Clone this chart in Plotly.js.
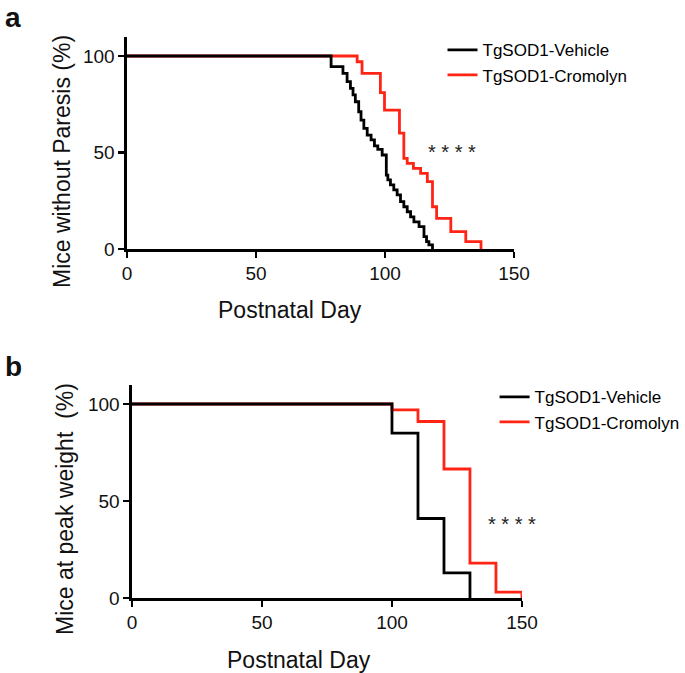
<!DOCTYPE html>
<html lang="en">
<head>
    <meta charset="UTF-8">
    <title>Paresis and peak weight survival curves</title>
    <script src="https://cdn.plot.ly/plotly-3.0.1.min.js"></script>
    <style>
        body { margin: 0; padding: 0; background: #fff; }
        #plot { width: 685px; height: 673px; }
    </style>
</head>
<body>
    <div id="plot"></div>
    <script>
        // Panel a: mice without paresis (%) by postnatal day (step curves)
        const vehA_days = [0, 79.1, 83.7, 85.3, 86.6, 87.6, 88.5, 89.8, 90.7, 91.8, 93.1, 94.6, 95.9, 97.2, 98.9, 100.5,
                           101.1, 102.1, 103.4, 104.7, 106, 107.3, 108.6, 109.9, 111.2, 113.2, 115.1, 116.1, 117, 118.4];
        const vehA_pct  = [100, 94.5, 91, 86.7, 83.2, 79.8, 76.3, 71.1, 66.8, 62.5, 59, 56.5, 53.4, 51.6, 48.7, 38.3,
                           35.8, 33.2, 30.6, 28, 24.5, 21.9, 19.3, 16.7, 14.1, 11.6, 6.4, 3.8, 2.1, 0];
        const croA_days = [0, 89.2, 91.1, 98.2, 99.8, 105.6, 107.3, 108.6, 111, 113.8, 116.4, 118.4, 120, 125.5, 131.3, 137.2];
        const croA_pct  = [100, 97, 91, 81, 72, 60, 47, 44.4, 41.8, 39.2, 34.9, 21.9, 15.9, 9, 3.8, 0];

        // Panel b: mice at peak weight (%)
        const vehB_days = [0, 100, 110, 120, 130];
        const vehB_pct  = [100, 85, 41, 13, 0];
        const croB_days = [0, 100, 110, 120, 130, 140, 150];
        const croB_pct  = [100, 97, 91, 66.5, 18, 3, 0];

        const groups = ['TgSOD1-Vehicle', 'TgSOD1-Cromolyn'];
        const black = '#000000';
        const red = '#ff2414';
        const font = 'Liberation Sans, Arial, sans-serif';

        function stepTrace(x, y, name, color, xa, ya, leg, rank) {
            return {
                x: x, y: y, name: name,
                type: 'scatter', mode: 'lines',
                line: { shape: 'hv', color: color, width: 2.8 },
                xaxis: xa, yaxis: ya,
                legend: leg, legendrank: rank,
                hoverinfo: 'x+y'
            };
        }

        // red first so black sits on top where they overlap
        const data = [
            stepTrace(croA_days, croA_pct, groups[1], red, 'x', 'y', 'legend', 2),
            stepTrace(vehA_days, vehA_pct, groups[0], black, 'x', 'y', 'legend', 1),
            stepTrace(croB_days, croB_pct, groups[1], red, 'x2', 'y2', 'legend2', 2),
            stepTrace(vehB_days, vehB_pct, groups[0], black, 'x2', 'y2', 'legend2', 1)
        ];

        const axisBase = {
            showline: true, linecolor: black, linewidth: 2.5,
            ticks: 'outside', ticklen: 6, tickwidth: 2.5, tickcolor: black,
            showgrid: false, zeroline: false,
            tickfont: { family: font, size: 19, color: '#111' }
        };

        function xAxis(domain, anchor) {
            return Object.assign({}, axisBase, {
                domain: domain, anchor: anchor, range: [0, 150],
                tickvals: [0, 50, 100, 150]
            });
        }
        function yAxis(domain, anchor) {
            return Object.assign({}, axisBase, {
                domain: domain, anchor: anchor, range: [0, 110],
                tickvals: [0, 50, 100]
            });
        }

        const legendBase = {
            font: { family: font, size: 17, color: black },
            traceorder: 'normal',
            bgcolor: 'rgba(0,0,0,0)', xanchor: 'left', yanchor: 'top'
        };

        function label(text, x, y, size, angle) {
            return { text: text, xref: 'paper', yref: 'paper', x: x, y: y, showarrow: false,
                     xanchor: 'center', yanchor: 'middle',
                     textangle: angle || 0, font: { family: font, size: size, color: '#111' } };
        }

        const layout = {
            width: 685, height: 673,
            margin: { l: 0, r: 0, t: 0, b: 0 },
            paper_bgcolor: '#fff', plot_bgcolor: '#fff',
            xaxis: xAxis([0.1854, 0.7504], 'y'),
            yaxis: yAxis([0.630, 0.9455], 'x'),
            xaxis2: xAxis([0.1927, 0.7620], 'y2'),
            yaxis2: yAxis([0.1114, 0.4285], 'x2'),
            legend: Object.assign({}, legendBase, { x: 0.646, y: 0.952 }),
            legend2: Object.assign({}, legendBase, { x: 0.722, y: 0.4365 }),
            annotations: [
                Object.assign(label('<b>a</b>', 0.004, 1.0, 28), { xanchor: 'left', yanchor: 'top' }),
                Object.assign(label('<b>b</b>', 0.004, 0.482, 28), { xanchor: 'left', yanchor: 'top' }),
                label('Postnatal Day', 0.4234, 0.5394, 23),
                label('Postnatal Day', 0.4365, 0.0193, 23),
                label('Mice without Paresis (%)', 0.0905, 0.7608, 23, -90),
                label('Mice at peak weight  (%)', 0.0949, 0.2437, 23, -90),
                { text: '* * * *', xref: 'x', yref: 'y', x: 126, y: 50, showarrow: false,
                  font: { family: font, size: 20, color: '#222' } },
                { text: '* * * *', xref: 'x2', yref: 'y2', x: 146, y: 38, showarrow: false,
                  font: { family: font, size: 20, color: '#222' } }
            ]
        };

        Plotly.newPlot('plot', data, layout, { displayModeBar: false, staticPlot: true });
    </script>
</body>
</html>
